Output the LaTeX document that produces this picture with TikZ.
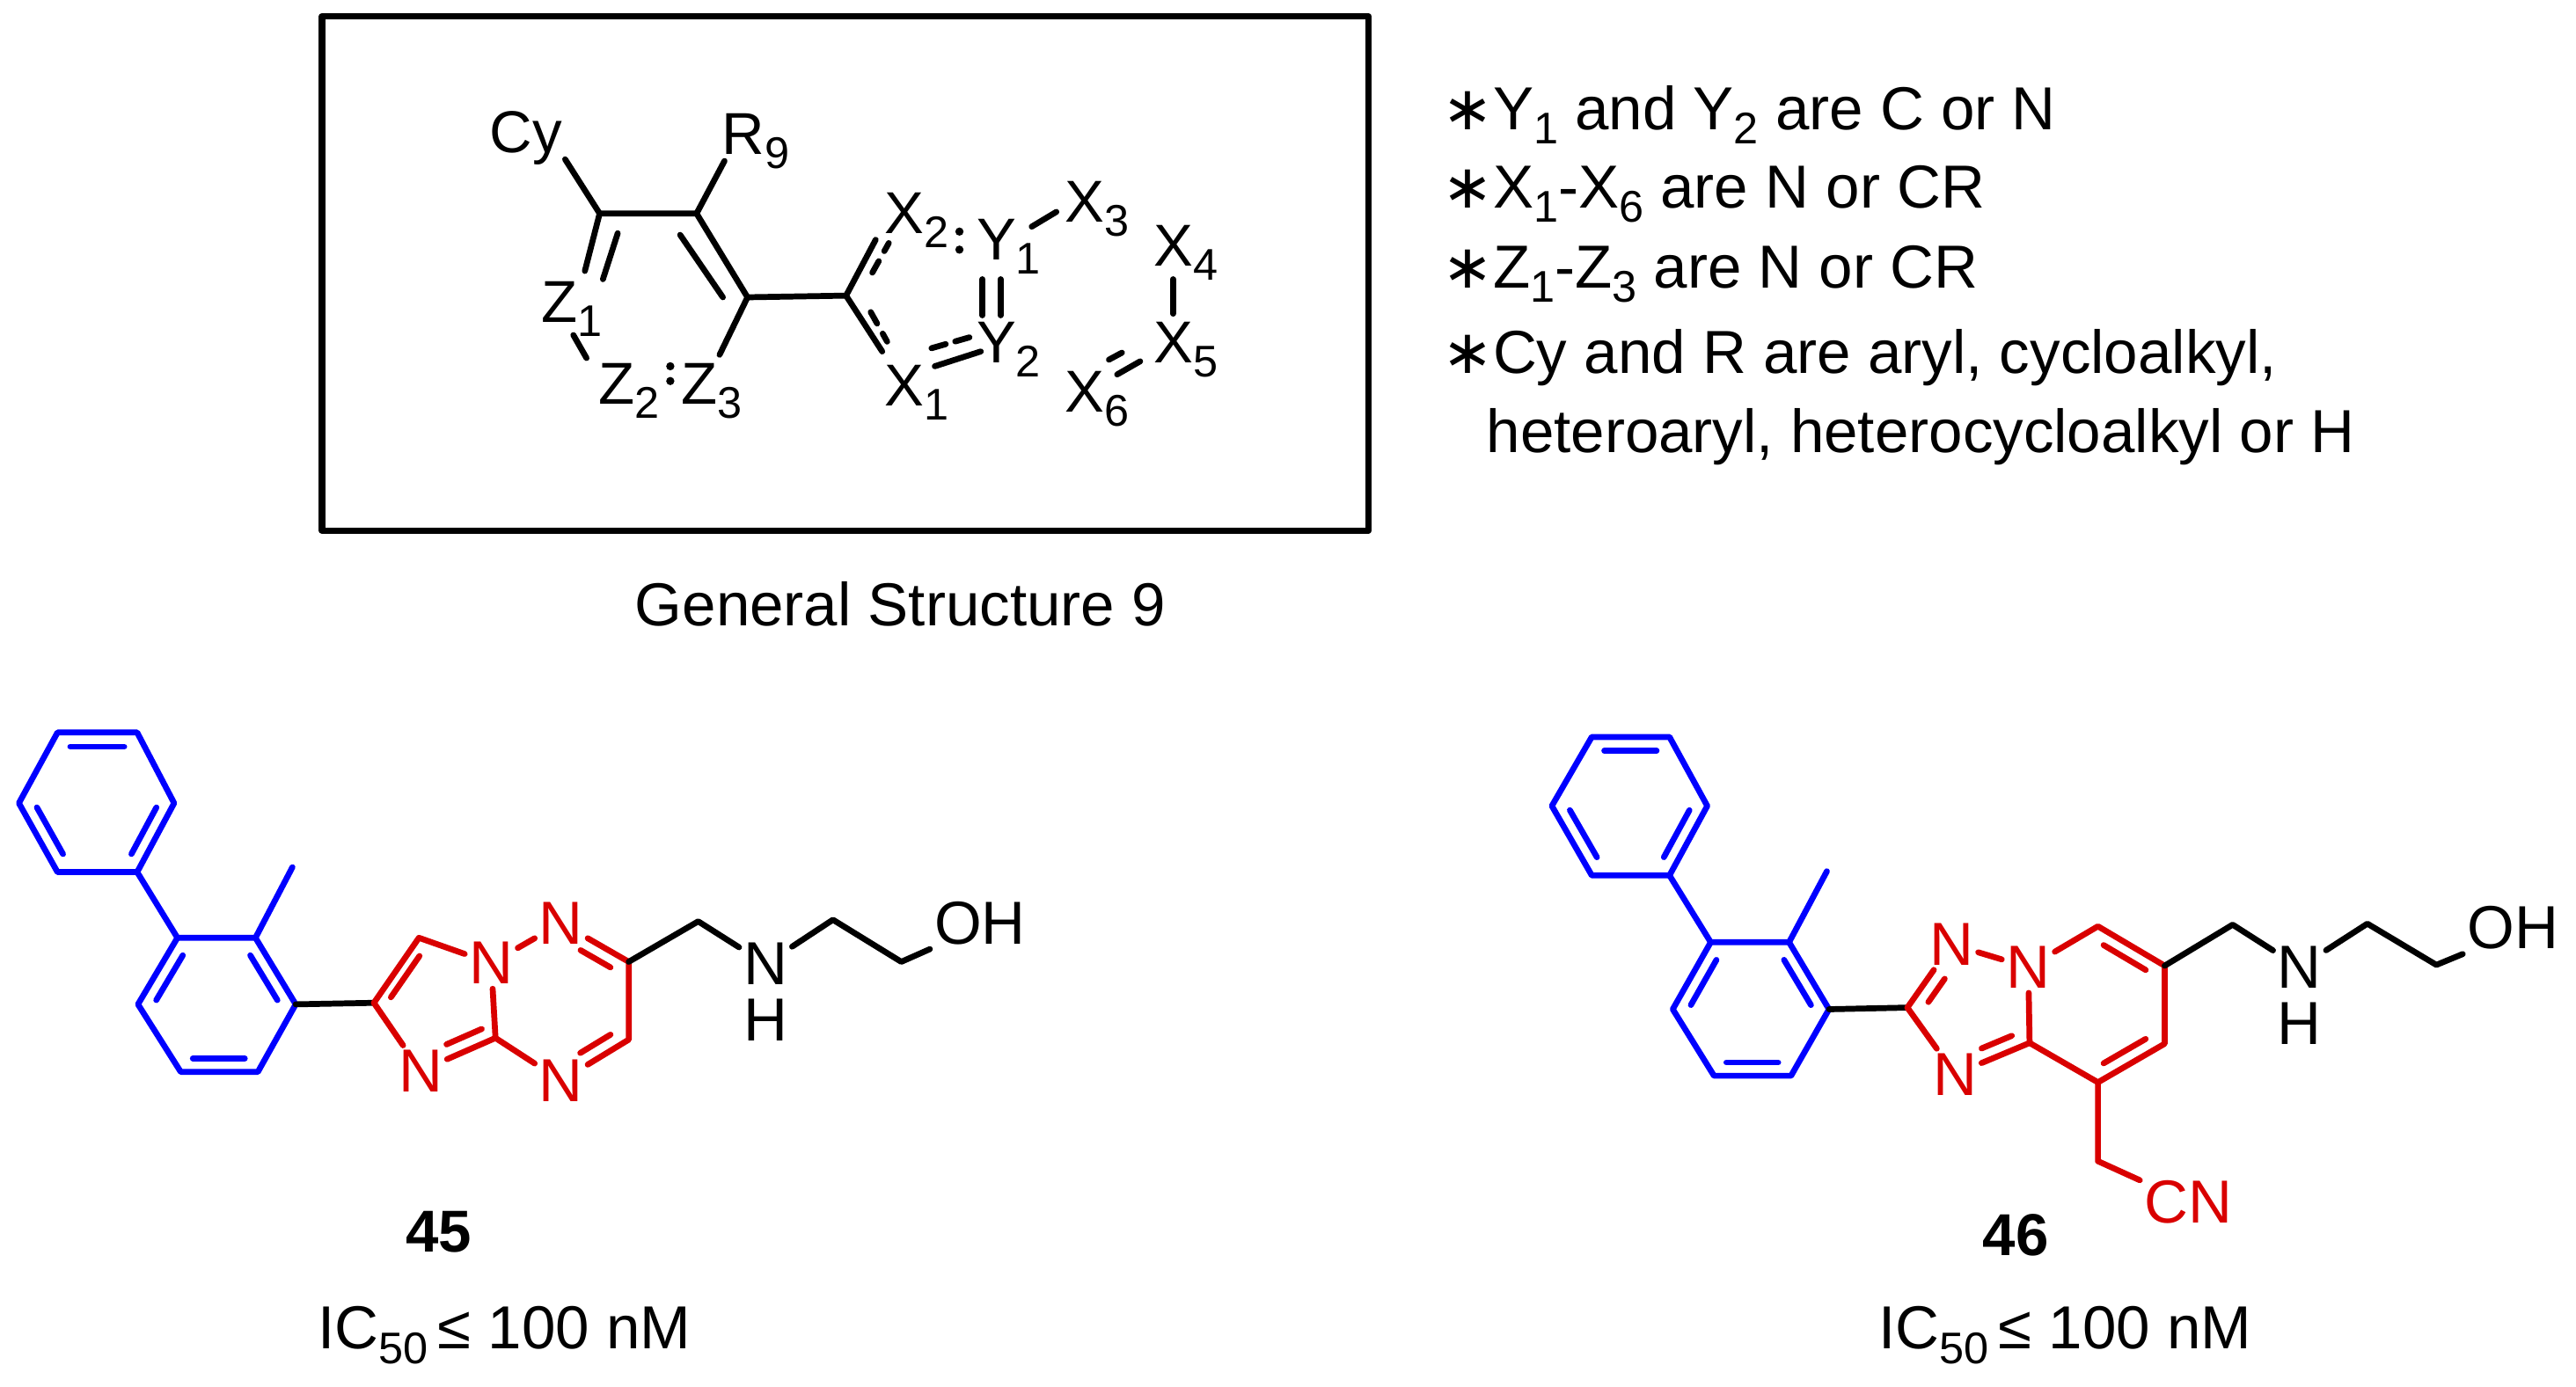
\documentclass[tikz,border=0pt]{standalone}
\usepackage{fontspec}
\setmainfont{Liberation Sans}
\newfontfamily\djv{DejaVu Sans}
\usetikzlibrary{calc}
\newcommand\sbs[1]{\raisebox{-0.45ex}{\fontsize{27}{29}\selectfont #1}}
\newcommand\dbl[5]{\draw[shorten <=#4, shorten >=#5] ($(#1)!0.2!(#3)$) -- ($(#2)!0.2!(#3)$);}
\begin{document}
\begin{tikzpicture}[x=1pt,y=-1pt,line width=3.6pt,line cap=round,line join=round,
  atom/.style={inner sep=1pt,font=\fontsize{37}{40}\selectfont},
  lbl/.style={inner sep=0pt,font=\fontsize{36}{40}\selectfont},
  txt/.style={inner sep=0pt,anchor=west,font=\fontsize{37}{40}\selectfont},
  rd/.style={text=red!85!black}]
\useasboundingbox (0,0) rectangle (1568,844);
\fill[white] (0,0) rectangle (1568,844);
% ---------------- general structure box
\draw[line width=3.8pt,line cap=butt] (196,10) rectangle (833,323);
\node[lbl] (cy) at (320,84) {Cy};
\node[lbl] (r9) at (460,86) {R\sbs{9}};
\coordinate (ga) at (365,130); \coordinate (gb) at (424,130); \coordinate (gc) at (455,181);
\node[lbl] (z1) at (348,188) {Z\sbs{1}};
\node[lbl] (z2) at (383,238) {Z\sbs{2}};
\node[lbl] (z3) at (433,238) {Z\sbs{3}};
\coordinate (ge) at (515,180);
\node[lbl] (x2) at (558,134) {X\sbs{2}};
\node[lbl] (y1) at (614,150) {Y\sbs{1}};
\node[lbl] (x3) at (668,127) {X\sbs{3}};
\node[lbl] (x4) at (722,154) {X\sbs{4}};
\node[lbl] (x5) at (722,213) {X\sbs{5}};
\node[lbl] (y2) at (614,213) {Y\sbs{2}};
\node[lbl] (x1) at (558,239) {X\sbs{1}};
\node[lbl] (x6) at (668,243) {X\sbs{6}};
\draw (344,97) -- (ga) -- (gb) -- (gc) -- (ge);
\draw (441,98) -- (gb);
\draw (ga) -- (356,165);
\draw (376,142) -- (367,170);
\draw (414,143) -- (440,181);
\draw (gc) -- (438,216);
\draw (349,204) -- (357,218);
\fill (408,223) circle (2.5pt) (408,232) circle (2.5pt);
\draw (ge) -- (533,146);
\draw[dash pattern=on 8pt off 7pt] (531,166) -- (541,148);
\draw (ge) -- (537,214);
\draw[dash pattern=on 8pt off 7pt] (530,190) -- (540,208);
\fill (584,141) circle (2.5pt) (584,152) circle (2.5pt);
\draw (628,138) -- (643,129);
\draw (598,170) -- (598,192) (609,170) -- (609,192);
\draw (569,223) -- (597,214);
\draw[dash pattern=on 9pt off 6pt] (567,212) -- (595,204);
\draw (714,170) -- (714,191);
\draw (680,228) -- (694,220);
\draw[dash pattern=on 9pt off 6pt] (675,219) -- (688,212);
\node[lbl,font=\fontsize{37}{40}\selectfont] (gs) at (548,368) {General Structure 9};
% ---------------- notes
\node[txt] (t1) at (876,70) {{\djv∗}Y\sbs{1} and Y\sbs{2} are C or N};
\node[txt] (t2) at (876,118) {{\djv∗}X\sbs{1}-X\sbs{6} are N or CR};
\node[txt] (t3) at (876,167) {{\djv∗}Z\sbs{1}-Z\sbs{3} are N or CR};
\node[txt] (t4) at (876,218) {{\djv∗}Cy and R are aryl, cycloalkyl,};
\node[txt] (t5) at (903,266) {heteroaryl, heterocycloalkyl or H};
% ---------------- compound 45
\begin{scope}[draw=blue]
\coordinate (a1) at (35,446); \coordinate (a2) at (83.5,446); \coordinate (a3) at (106,489);
\coordinate (a4) at (83.5,531); \coordinate (a5) at (35,531); \coordinate (a6) at (11.5,489);
\coordinate (ac) at (59,489);
\draw (a1)--(a2)--(a3)--(a4)--(a5)--(a6)--cycle;
\dbl{a1}{a2}{ac}{3pt}{3pt} \dbl{a3}{a4}{ac}{3pt}{3pt} \dbl{a5}{a6}{ac}{3pt}{3pt}
\coordinate (b1) at (108,571); \coordinate (b2) at (155.5,571); \coordinate (b3) at (180,611.5);
\coordinate (b4) at (157,652.6); \coordinate (b5) at (110,652.6); \coordinate (b6) at (84,611.5);
\coordinate (bc) at (132,611.5); \coordinate (bm) at (178,528);
\draw (b1)--(b2)--(b3)--(b4)--(b5)--(b6)--cycle;
\dbl{b1}{b6}{bc}{3pt}{3pt} \dbl{b2}{b3}{bc}{3pt}{3pt} \dbl{b4}{b5}{bc}{3pt}{3pt}
\draw (a4)--(b1) (b2)--(bm);
\end{scope}
\coordinate (c2) at (227.6,610.6);
\draw (b3)--(c2);
\begin{scope}[draw=red!85!black]
\coordinate (c3) at (255,571); \coordinate (c8a) at (301.6,632);
\coordinate (c6) at (382.7,585.6); \coordinate (c7) at (382.7,633);
\coordinate (fc) at (268,610); \coordinate (sc) at (340,610);
\node[atom,rd] (nb) at (299,586.5) {N};
\node[atom,rd] (n1) at (256,652) {N};
\node[atom,rd] (n4) at (341.6,562) {N};
\node[atom,rd] (n5) at (341.6,658) {N};
\draw (c2)--(c3)--(nb)--(c8a)--(n1)--(c2);
\dbl{c2}{c3}{fc}{4pt}{4pt}
\draw[shorten >=14pt] ($(c8a)!0.25!(fc)$) -- ($(n1)!0.25!(fc)$);
\draw (nb)--(n4);
\draw (n4)--(c6)--(c7)--(n5)--(c8a);
\draw[shorten <=14pt,shorten >=3pt] ($(n4)!0.2!(sc)$) -- ($(c6)!0.2!(sc)$);
\draw[shorten <=3pt,shorten >=14pt] ($(c7)!0.2!(sc)$) -- ($(n5)!0.2!(sc)$);
\end{scope}
\coordinate (d1) at (425,561); \coordinate (d2) at (507,560); \coordinate (d3) at (548.6,585.6);
\node[atom] (nh) at (466,587) {N};
\node[atom] (hh) at (466,621) {H};
\node[atom,anchor=west] (oh) at (566,562) {OH};
\draw (c6)--(d1)--(nh)--(d2)--(d3)--(oh.south west);
\node[lbl,font=\bfseries\fontsize{36}{40}\selectfont] (l45) at (267,750) {45};
\node[lbl,font=\fontsize{37}{40}\selectfont] (ic45) at (307,813) {IC\sbs{50}\,≤ 100 nM};
% ---------------- compound 46
\begin{scope}[draw=blue]
\coordinate (e1) at (968.9,448.7); \coordinate (e2) at (1016.2,448.7); \coordinate (e3) at (1039.2,490.7);
\coordinate (e4) at (1016.2,533); \coordinate (e5) at (968.9,533); \coordinate (e6) at (944.6,490.7);
\coordinate (ec) at (992,490.7);
\draw (e1)--(e2)--(e3)--(e4)--(e5)--(e6)--cycle;
\dbl{e1}{e2}{ec}{3pt}{3pt} \dbl{e3}{e4}{ec}{3pt}{3pt} \dbl{e5}{e6}{ec}{3pt}{3pt}
\coordinate (f1) at (1041.3,573.7); \coordinate (f2) at (1089,573.7); \coordinate (f3) at (1113.3,614.5);
\coordinate (f4) at (1090.2,655); \coordinate (f5) at (1043.3,655); \coordinate (f6) at (1018.2,614.5);
\coordinate (fc2) at (1066,614.5); \coordinate (fm) at (1112,530.5);
\draw (f1)--(f2)--(f3)--(f4)--(f5)--(f6)--cycle;
\dbl{f1}{f6}{fc2}{3pt}{3pt} \dbl{f2}{f3}{fc2}{3pt}{3pt} \dbl{f4}{f5}{fc2}{3pt}{3pt}
\draw (e4)--(f1) (f2)--(fm);
\end{scope}
\coordinate (g2) at (1161,613.5);
\draw (f3)--(g2);
\begin{scope}[draw=red!85!black]
\coordinate (g8a) at (1235.4,635); \coordinate (g5) at (1277,564); \coordinate (g6) at (1317.6,588);
\coordinate (g7) at (1317.6,635.5); \coordinate (g8) at (1277,659); \coordinate (gch) at (1277,707);
\coordinate (hc5) at (1203,613); \coordinate (hc6) at (1277,611);
\node[atom,rd] (m1) at (1188,575) {N};
\node[atom,rd] (mb) at (1234.6,589) {N};
\node[atom,rd] (m3) at (1190,654) {N};
\node[atom,rd] (cn) at (1332,732) {CN};
\draw (g2)--(m1); \draw (m1)--(mb);
\draw[shorten <=4pt,shorten >=14pt] ($(g2)!0.25!(hc5)$) -- ($(m1)!0.25!(hc5)$);
\draw (mb)--(g8a)--(m3)--(g2);
\draw[shorten <=3pt,shorten >=14pt] ($(g8a)!0.25!(hc5)$) -- ($(m3)!0.25!(hc5)$);
\draw (mb)--(g5)--(g6)--(g7)--(g8)--(g8a);
\dbl{g5}{g6}{hc6}{4pt}{4pt} \dbl{g7}{g8}{hc6}{4pt}{4pt}
\draw (g8)--(gch)--(cn);
\end{scope}
\coordinate (k1) at (1359,563); \coordinate (k2) at (1441,562.4); \coordinate (k3) at (1483,587.5);
\node[atom] (nh2) at (1399.7,589) {N};
\node[atom] (hh2) at (1399.7,623) {H};
\node[atom,anchor=west] (oh2) at (1499,565) {OH};
\draw (g6)--(k1)--(nh2)--(k2)--(k3)--(oh2.south west);
\node[lbl,font=\bfseries\fontsize{36}{40}\selectfont] (l46) at (1227,752) {46};
\node[lbl,font=\fontsize{37}{40}\selectfont] (ic46) at (1257,813) {IC\sbs{50}\,≤ 100 nM};
\end{tikzpicture}
\end{document}
